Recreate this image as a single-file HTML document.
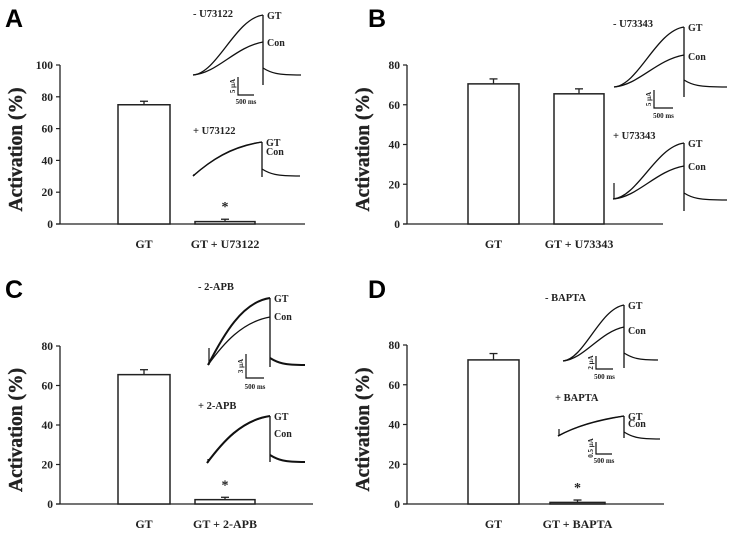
<!DOCTYPE html>
<html><head><meta charset="utf-8"><style>
html,body{margin:0;padding:0;background:#fff;}
svg{display:block;}
text{font-family:"Liberation Serif",serif;font-weight:bold;fill:#222;}
.pl{font-family:"Liberation Sans",sans-serif;font-size:25px;fill:#000;}
</style></head><body>
<svg id="fig" width="729" height="533" viewBox="0 0 729 533"></svg>
<script>
// ---- data ----
const panelLetters = ["A","B","C","D"];
const categoriesA = ["GT","GT + U73122"];
const categoriesB = ["GT","GT + U73343"];
const categoriesC = ["GT","GT + 2-APB"];
const categoriesD = ["GT","GT + BAPTA"];
const valuesA = [75, 1.5];
const valuesB = [70.5, 65.5];
const valuesC = [65.5, 2.2];
const valuesD = [72.5, 0.8];
const errorsA = [2.2, 1.5];
const errorsB = [2.5, 2.5];
const errorsC = [2.5, 1.2];
const errorsD = [3.2, 1.2];
const sigA = [false, true];
const sigB = [false, false];
const sigC = [false, true];
const sigD = [false, true];
const ticksA = [0,20,40,60,80,100];
const ticksB = [0,20,40,60,80];
const ticksC = [0,20,40,60,80];
const ticksD = [0,20,40,60,80];

const NS="http://www.w3.org/2000/svg";
const svg=document.getElementById('fig');
function mk(tag,attrs,parent){const e=document.createElementNS(NS,tag);for(const k in attrs)e.setAttribute(k,attrs[k]);(parent||svg).appendChild(e);return e;}
function tx(s,x,y,size,attrs,parent){const e=mk('text',Object.assign({x:x,y:y,'font-size':size},attrs||{}),parent);e.textContent=s;return e;}

const panels=[
 {L:panelLetters[0],lx:5,ly:27,ax:60,y0:224,ymax:100,yTop:65,xEnd:305,bars:[[118,170],[195,255]],cats:categoriesA,vals:valuesA,errs:errorsA,sig:sigA,ticks:ticksA},
 {L:panelLetters[1],lx:368,ly:27,ax:407,y0:224,ymax:80,yTop:65,xEnd:663,bars:[[468,519],[554,604]],cats:categoriesB,vals:valuesB,errs:errorsB,sig:sigB,ticks:ticksB},
 {L:panelLetters[2],lx:5,ly:298,ax:60,y0:504,ymax:80,yTop:346,xEnd:313,bars:[[118,170],[195,255]],cats:categoriesC,vals:valuesC,errs:errorsC,sig:sigC,ticks:ticksC},
 {L:panelLetters[3],lx:368,ly:298,ax:407,y0:504,ymax:80,yTop:345,xEnd:664,bars:[[468,519],[550,605]],cats:categoriesD,vals:valuesD,errs:errorsD,sig:sigD,ticks:ticksD}
];

panels.forEach((p,pi)=>{
  const g=mk('g',{});
  
  
  const yS=v=>p.y0-(v/p.ymax)*(p.y0-p.yTop);
  const lt=tx(p.L,p.lx,p.ly,25,{class:'pl'},g);
  
  
  const ya=mk('line',{x1:p.ax,y1:p.yTop,x2:p.ax,y2:p.y0,stroke:'#222','stroke-width':1.3},g);
  
  
  const xa=mk('line',{x1:p.ax-4,y1:p.y0,x2:p.xEnd,y2:p.y0,stroke:'#222','stroke-width':1.3},g);
  
  
  p.ticks.forEach(t=>{
    const y=yS(t);
    const tk=mk('line',{x1:p.ax-4,y1:y,x2:p.ax,y2:y,stroke:'#222','stroke-width':1.2},g);
    
    
    const tl=tx(String(t),p.ax-7,y+4,11.5,{'text-anchor':'end'},g);
    
    
  });
  const midY=(p.yTop+p.y0)/2+5;
  const yl=tx('Activation (%)',p.ax-38,midY,19.5,{'text-anchor':'middle',stroke:'#222','stroke-width':0.4,transform:`rotate(-90 ${p.ax-38} ${midY})`},g);
  
  
  p.vals.forEach((v,i)=>{
    const [x1,x2]=p.bars[i];const cx=(x1+x2)/2;
    const top=yS(v);
    const eTop=yS(v+p.errs[i]);
    const el=mk('line',{x1:cx,y1:top,x2:cx,y2:eTop,stroke:'#222','stroke-width':1.3},g);
    
    
    const ec=mk('line',{x1:cx-4,y1:eTop,x2:cx+4,y2:eTop,stroke:'#222','stroke-width':1.3},g);
    
    
    const r=mk('rect',{x:x1,y:top,width:x2-x1,height:Math.max(p.y0-top,0.5),fill:'#fff',stroke:'#222','stroke-width':1.5},g);
    
    
    const cl=tx(p.cats[i],cx,p.y0+24,12,{'text-anchor':'middle'},g);
    
    
    if(p.sig[i]){
      const st=tx('*',cx,eTop-8,14,{'text-anchor':'middle',fill:'#444'},g);
      
      
    }
  });
});

// ---- current trace insets (illustrative recordings) ----
function inset(name,label,lx,ly,x0,y0,xv,yGT,yCon,yBot,xTail,yTail,spike,labGT,labCon,thick,concave){
  const g=mk('g',{});
  
  
  tx(label,lx,ly,10.5,{},g);
  const sw=thick?2:1.3;
  const dx=xv-x0;
  const a=concave?0.25:0.35, b=concave?0.55:0.6;
  const c1=yv=>concave?(y0-(y0-yv)*0.45):(y0-2);
  mk('path',{d:`M${x0},${y0} C${x0+dx*a},${c1(yGT)} ${x0+dx*b},${yGT+4} ${xv},${yGT}`,fill:'none',stroke:'#111','stroke-width':sw},g);
  mk('path',{d:`M${x0},${y0} C${x0+dx*a},${c1(yCon)} ${x0+dx*b},${yCon+5} ${xv},${yCon}`,fill:'none',stroke:'#111','stroke-width':1.3},g);
  mk('line',{x1:xv,y1:Math.min(yGT,yCon),x2:xv,y2:yBot,stroke:'#111','stroke-width':1.3},g);
  mk('path',{d:`M${xv},${yTail-7} C${xv+8},${yTail-2} ${xv+14},${yTail} ${xTail},${yTail}`,fill:'none',stroke:'#111','stroke-width':sw},g);
  if(spike) mk('line',{x1:x0+1,y1:y0-spike,x2:x0+1,y2:y0,stroke:'#111','stroke-width':1.2},g);
  if(labGT) tx('GT',xv+4,yGT+4,10,{},g);
  if(labCon) tx('Con',xv+4,labCon,10,{},g);
}
function scalebar(name,x,y1,y2,x2,lab,msY){
  const g=mk('g',{});
  
  
  mk('path',{d:`M${x},${y1} L${x},${y2} L${x2},${y2}`,fill:'none',stroke:'#111','stroke-width':1.2},g);
  const my=(y1+y2)/2;
  tx(lab,x-3,my,7,{'text-anchor':'middle',transform:`rotate(-90 ${x-3} ${my})`},g);
  tx('500 ms',(x+x2)/2,msY,7,{'text-anchor':'middle'},g);
}
// A
inset('trace-minus-u73122','- U73122',193,17,193,75,263,15,42,85,301,75,0,true,46,false,false);
scalebar('scale-bar-a',238,77,95,254,'5 μA',104);
inset('trace-plus-u73122','+ U73122',193,134,193,176,262,142,142,177,300,176,2,true,155,false,true);
// B
inset('trace-minus-u73343','- U73343',613,27,614,87,684,27,55,97,727,87,0,true,60,false,false);
scalebar('scale-bar-b',654,90,108,673,'5 μA',118);
inset('trace-plus-u73343','+ U73343',613,139,613,199,684,143,166,211,727,200,16,true,170,false,false);
// C
inset('trace-minus-2apb','- 2-APB',198,290,208,365,270,298,317,367,305,365,17,true,320,true,true);
scalebar('scale-bar-c',246,354,378,264,'3 μA',389);
inset('trace-plus-2apb','+ 2-APB',198,409,207,463,270,416,416,462,305,462,4,true,437,true,true);
// D
inset('trace-minus-bapta','- BAPTA',545,301,563,361,624,305,327,368,658,360,0,true,334,false,false);
scalebar('scale-bar-d-top',596,356,369,613,'2 μA',379);
inset('trace-plus-bapta','+ BAPTA',555,401,558,436,624,416,416,438,660,439,7,true,427,false,true);
scalebar('scale-bar-d-bottom',596,442,454,612,'0.5 μA',463);
</script>
</body></html>
